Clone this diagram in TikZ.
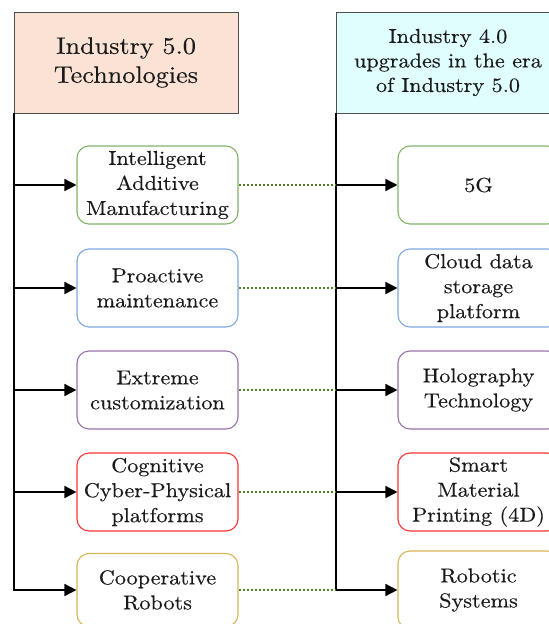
\documentclass[tikz,border=0pt]{standalone}
\usepackage{fontspec}
\setmainfont{lmroman10-regular}[Extension=.otf, FakeStretch=1.1, FakeBold=0.3]
\usetikzlibrary{arrows.meta}

\definecolor{headline}{HTML}{4D4D4D}
\definecolor{peach}{HTML}{FAE3D4}
\definecolor{icecyan}{HTML}{E0FEFE}
\definecolor{cgreen}{HTML}{82B366}
\definecolor{cblue}{HTML}{7EA6E0}
\definecolor{cpurple}{HTML}{9673A6}
\definecolor{cred}{HTML}{FF3333}
\definecolor{cgold}{HTML}{D6B656}
\definecolor{linkgreen}{HTML}{4E7D2E}
\definecolor{ink}{HTML}{1A1A1A}

\begin{document}
\begin{tikzpicture}[x=1pt,y=-1pt,
  every node/.style={text=ink},
  headbox/.style={draw=headline, line width=1pt, minimum width=224pt,
    minimum height=101pt, inner sep=0pt, align=center},
  itembox/.style={draw=#1, rounded corners=12pt, line width=1.1pt, fill=white,
    minimum width=161pt, minimum height=78pt, inner sep=0pt, align=center,
    font=\fontsize{20.2}{25}\selectfont},
  trunk/.style={line width=2pt, line cap=rect},
  feed/.style={line width=1.5pt, -{Triangle[length=12pt,width=12pt]}},
  link/.style={draw=linkgreen, line width=1.2pt, dash pattern=on 2pt off 2pt}]
\useasboundingbox (0,0) rectangle (549,624);
\clip (0,0) rectangle (549,624);

% column headers
\node[headbox, fill=peach, font=\fontsize{23.8}{29}\selectfont] (Lhead) at (126,62.5)
  {Industry 5.0\\Technologies};
\node[headbox, fill=icecyan, font=\fontsize{20.2}{24.5}\selectfont] (Rhead) at (448,62.5)
  {Industry 4.0\\upgrades in the era\\of Industry 5.0};

% Industry 5.0 technologies
\node[itembox=cgreen]  (L1) at (157.5,185) {Intelligent\\Additive\\Manufacturing};
\node[itembox=cblue]   (L2) at (157.5,288) {Proactive\\maintenance};
\node[itembox=cpurple] (L3) at (157.5,390) {Extreme\\customization};
\node[itembox=cred]    (L4) at (157.5,492) {Cognitive\\Cyber-Physical\\platforms};
\node[itembox=cgold, minimum height=73pt] (L5) at (157.5,590) {Cooperative\\Robots};

% Industry 4.0 upgrades
\node[itembox=cgreen]  (R1) at (478.5,185) {5G};
\node[itembox=cblue]   (R2) at (478.5,288) {Cloud data\\storage\\platform};
\node[itembox=cpurple] (R3) at (478.5,390) {Holography\\Technology};
\node[itembox=cred]    (R4) at (478.5,492) {Smart\\Material\\Printing (4D)};
\node[itembox=cgold]   (R5) at (478.5,590) {Robotic\\Systems};

% trunks
\draw[trunk] (Lhead.south west) -- (Lhead.south west |- L5.west);
\draw[trunk] (Rhead.south west) -- (Rhead.south west |- R5.west);

% branches and cross links
\foreach \i in {1,...,5}{
  \draw[feed] (Lhead.south west |- L\i.west) -- (L\i.west);
  \draw[feed] (Rhead.south west |- R\i.west) -- (R\i.west);
  \draw[link] (L\i.east) -- (Rhead.south west |- L\i.east);
}
\end{tikzpicture}
\end{document}
